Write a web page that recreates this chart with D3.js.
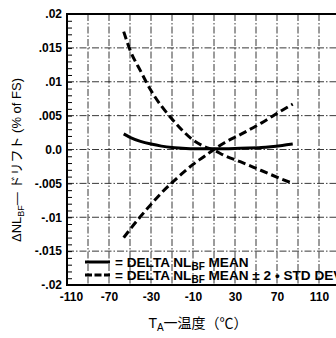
<!DOCTYPE html>
<html><head><meta charset="utf-8">
<script src="https://cdn.jsdelivr.net/npm/d3@7"></script>
<style>body{margin:0;background:#fff} svg{display:block}</style>
</head><body>
<script>
// ---- data ----
const temps       = [-56, -50, -40, -30, -20, -10, 0, 10, 20, 30, 40, 55, 75, 95, 105];
const meanDrift   = [0.0023, 0.0018, 0.0012, 0.0008, 0.0005, 0.0003, 0.0002, 0.0001, 0.0001, 0.0001, 0.0001, 0.0002, 0.0003, 0.0006, 0.0008];
const plus2Sigma  = [0.0174, 0.0147, 0.0116, 0.0087, 0.0064, 0.0045, 0.0028, 0.0014, 0.0005, -0.0001, -0.0009, -0.0018, -0.0031, -0.0044, -0.0050];
const minus2Sigma = [-0.0130, -0.0118, -0.0099, -0.0081, -0.0064, -0.0049, -0.0035, -0.0022, -0.0011, 0.0000, 0.0010, 0.0022, 0.0039, 0.0058, 0.0067];
const yTicks      = [0.02, 0.015, 0.01, 0.005, 0, -0.005, -0.01, -0.015, -0.02];
const yTickLabels = [".02", ".015", ".01", ".005", "0.0", "-.005", "-.01", "-.015", "-.02"];
const xTickLabels = ["-110", "-70", "-30", "-10", "30", "70", "110"];

const W = 336, H = 338;
const LAT = "'Liberation Sans', Arial, 'Noto Sans CJK JP', sans-serif";
const svg = d3.select("body").append("svg").attr("width", W).attr("height", H)
  .style("font-family", LAT);

const x = d3.scaleLinear().domain([-110, 150]).range([67, 340]);
const y = d3.scaleLinear().domain([-0.02, 0.02]).range([285, 14]);

// grid
const grid = svg.append("g").attr("stroke", "#222").attr("stroke-width", 0.9)
  .attr("stroke-dasharray", "7,2,1.5,2").attr("fill", "none");
grid.selectAll("line.v").data(d3.range(-90, 151, 20)).join("line")
  .attr("x1", d => x(d)).attr("x2", d => x(d)).attr("y1", y(0.02)).attr("y2", y(-0.02));
grid.selectAll("line.h").data(yTicks.filter(d => Math.abs(d) < 0.019)).join("line")
  .attr("x1", x(-110)).attr("x2", W).attr("y1", d => y(d)).attr("y2", d => y(d));

// minor ticks on the left axis (inside)
const minor = svg.append("g").attr("transform", `translate(${x(-110)},0)`)
  .call(d3.axisRight(y).tickValues(d3.range(-20, 21, 1).map(d => d / 1000)).tickSize(5).tickFormat(""));
minor.select(".domain").remove();
minor.selectAll("line").attr("stroke", "#000").attr("stroke-width", 1);

// y labels
const yAx = svg.append("g").attr("transform", `translate(${x(-110)},0)`)
  .call(d3.axisLeft(y).tickValues(yTicks).tickSize(0).tickPadding(5)
    .tickFormat((d, i) => yTickLabels[i]));
yAx.select(".domain").remove();
yAx.selectAll("text").attr("font-size", 12).attr("font-weight", "bold")
  .attr("font-family", LAT).attr("fill", "#000");

// x labels
const xAx = svg.append("g").attr("transform", `translate(0,${y(-0.02)})`)
  .call(d3.axisBottom(x).tickValues(xTickLabels.map((_, i) => -110 + 40 * i)).tickSize(0).tickPadding(7)
    .tickFormat((d, i) => xTickLabels[i]));
xAx.select(".domain").remove();
xAx.selectAll("text").attr("font-size", 12).attr("font-weight", "bold")
  .attr("font-family", LAT).attr("fill", "#000");
xAx.select(".tick text").attr("dx", 4);

// frame
const frame = svg.append("g").attr("stroke", "#000").attr("stroke-width", 2);
frame.append("line").attr("x1", x(-110)).attr("x2", W).attr("y1", y(0.02)).attr("y2", y(0.02));
frame.append("line").attr("x1", x(-110)).attr("x2", W).attr("y1", y(-0.02)).attr("y2", y(-0.02));
frame.append("line").attr("x1", x(-110)).attr("x2", x(-110)).attr("y1", y(0.02) - 1).attr("y2", y(-0.02) + 1);

// curves
const line = d3.line().x(d => x(d[0])).y(d => y(d[1])).curve(d3.curveMonotoneX);
const mk = arr => temps.map((t, i) => [t, arr[i]]);
svg.append("path").attr("d", line(mk(meanDrift))).attr("fill", "none")
  .attr("stroke", "#000").attr("stroke-width", 3);
[plus2Sigma, minus2Sigma].forEach(s => {
  svg.append("path").attr("d", line(mk(s))).attr("fill", "none")
    .attr("stroke", "#000").attr("stroke-width", 3).attr("stroke-dasharray", "8,4");
});

// legend
const leg = svg.append("g");
leg.append("line").attr("x1", 85).attr("x2", 110).attr("y1", 262).attr("y2", 262)
  .attr("stroke", "#000").attr("stroke-width", 3);
leg.append("line").attr("x1", 85).attr("x2", 110).attr("y1", 275).attr("y2", 275)
  .attr("stroke", "#000").attr("stroke-width", 3).attr("stroke-dasharray", "7,2.5");
const legTexts = [["= DELTA NL", "BF", " MEAN"], ["= DELTA NL", "BF", " MEAN ± 2 • STD DEV"]];
legTexts.forEach((t, i) => {
  const tx = leg.append("text").attr("x", 115).attr("y", 267 + i * 13.3)
    .attr("font-size", 13.6).attr("font-weight", "bold").attr("fill", "#000");
  tx.append("tspan").text(t[0]);
  tx.append("tspan").attr("font-size", 10).attr("dy", 2.5).text(t[1]);
  tx.append("tspan").attr("dy", -2.5).text(t[2]);
});

// axis titles
const xt = svg.append("text").attr("x", 198).attr("y", 328).attr("text-anchor", "middle")
  .attr("font-size", 14).attr("fill", "#000");
xt.append("tspan").text("T");
xt.append("tspan").attr("font-size", 10).attr("dy", 3).text("A");
xt.append("tspan").attr("dy", -3).attr("font-family", "'Noto Sans CJK JP'").text("一温度（℃）");

const yt = svg.append("text").attr("transform", "translate(21,160) rotate(-90)")
  .attr("text-anchor", "middle").attr("font-size", 13).attr("fill", "#000");
yt.append("tspan").text("ΔNL");
yt.append("tspan").attr("font-size", 9).attr("dy", 3).text("BF");
yt.append("tspan").attr("dy", -3).text("— ");
yt.append("tspan").attr("font-family", "'Noto Sans CJK JP'").text("ドリフト");
yt.append("tspan").text(" (% of FS)");
</script>
</body></html>
